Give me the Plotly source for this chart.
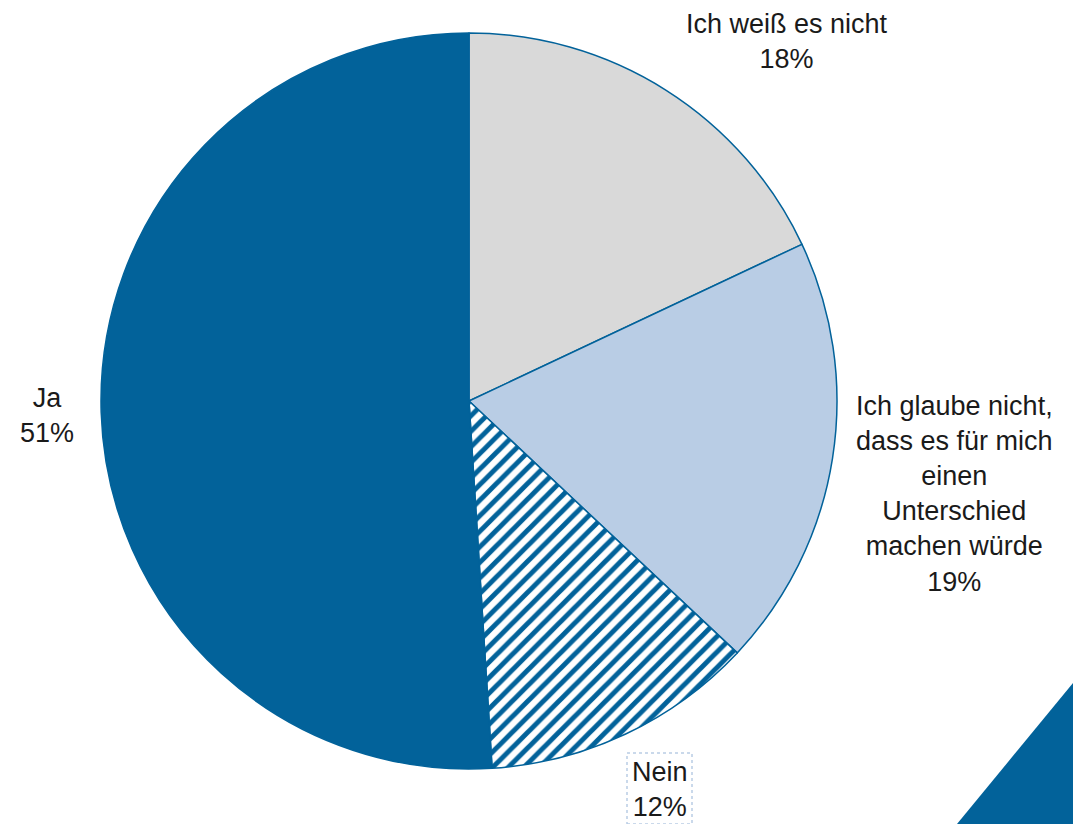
import plotly.graph_objects as go

# Survey answers, clockwise from 12 o'clock
labels = ["Ich weiß es nicht",
          "Ich glaube nicht, dass es für mich einen Unterschied machen würde",
          "Nein",
          "Ja"]
values = [18, 19, 12, 51]
label_lines = [["Ich weiß es nicht"],
               ["Ich glaube nicht,", "dass es für mich", "einen", "Unterschied", "machen würde"],
               ["Nein"],
               ["Ja"]]

DARK_BLUE = "#02629A"
LIGHT_BLUE = "#B9CDE5"
GREY = "#D9D9D9"

W, H = 1073, 824
FONT = "Liberation Sans Narrow, Arial Narrow, Liberation Sans, Arial, sans-serif"

fig = go.Figure()
fig.add_trace(go.Pie(
    labels=labels,
    values=values,
    sort=False,
    direction="clockwise",
    rotation=0,
    textinfo="none",
    hoverinfo="label+percent",
    showlegend=False,
    marker=dict(
        colors=[GREY, LIGHT_BLUE, "white", DARK_BLUE],
        line=dict(color=DARK_BLUE, width=1.5),
        pattern=dict(shape=["", "", "/", ""], fgcolor=DARK_BLUE,
                     bgcolor="white", size=11, solidity=0.45,
                     fillmode="replace"),
    ),
    domain=dict(x=[(469 - 368) / W, (469 + 368) / W],
                y=[(H - 401 - 368) / H, (H - 401 + 368) / H]),
))

# label positions (paper coordinates) for each slice
label_pos = [(787, 41), (954, 494), (660, 789), (47, 415)]
for lines, v, (px, py) in zip(label_lines, values, label_pos):
    fig.add_annotation(
        x=px / W, y=(H - py) / H, xref="paper", yref="paper",
        xanchor="center", yanchor="middle", showarrow=False,
        text="<br>".join(lines + [f"{v}%"]),
        font=dict(family=FONT, size=27, color="#1A1A1A"),
        align="center",
    )

# dotted frame around the "Nein" label
fig.add_shape(type="rect", xref="paper", yref="paper",
              x0=627 / W, x1=692 / W, y0=0, y1=(H - 753) / H,
              line=dict(color="#B9CDE5", width=1.5, dash="dot"))

# corner decoration
fig.add_shape(type="path", xref="paper", yref="paper",
              path=f"M {957 / W} 0 L 1 {(H - 683) / H} L 1 0 Z",
              fillcolor=DARK_BLUE, line=dict(width=0))

fig.update_layout(
    width=W, height=H,
    margin=dict(l=0, r=0, t=0, b=0),
    paper_bgcolor="white",
    plot_bgcolor="white",
)

fig.write_html("out.html")
